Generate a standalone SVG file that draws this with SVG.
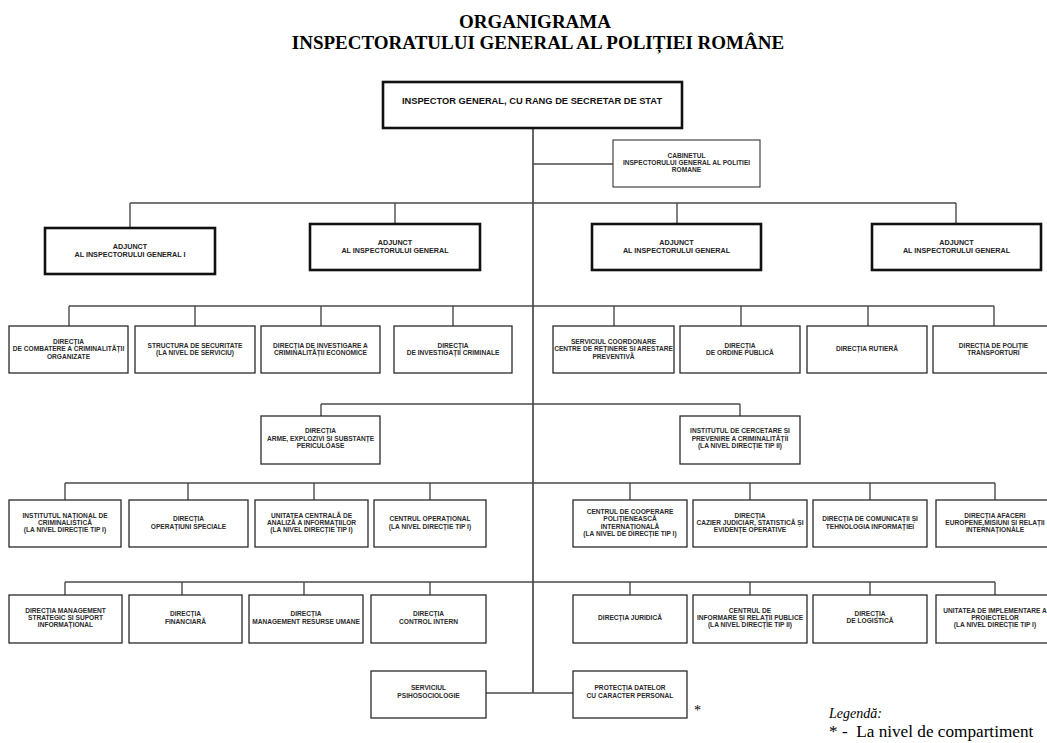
<svg xmlns="http://www.w3.org/2000/svg" width="1047" height="743" viewBox="0 0 1047 743">
<style>
.bg{fill:#fff}
.box{fill:#fff;stroke:#2a2a2a;stroke-width:1.3}
.thin{fill:#fff;stroke:#333;stroke-width:1.1}
.thick{fill:#fff;stroke:#111;stroke-width:2.6}
.ln{fill:none;stroke:#4a4a4a;stroke-width:1.4}
.main{fill:none;stroke:#111;stroke-width:1.3}
.t{font-family:"Liberation Sans",Arial,sans-serif;font-size:6.6px;font-weight:bold;fill:#2b2b2b;text-anchor:middle}
.ta{font-family:"Liberation Sans",Arial,sans-serif;font-size:7.2px;font-weight:bold;fill:#222;text-anchor:middle}
.tt{font-family:"Liberation Sans",Arial,sans-serif;font-size:9.3px;font-weight:bold;fill:#111;text-anchor:middle}
.title{font-family:"Liberation Serif","Times New Roman",serif;font-size:19px;font-weight:bold;fill:#000;text-anchor:middle}
.leg{font-family:"Liberation Serif","Times New Roman",serif;fill:#000}
</style>
<rect class="bg" x="0" y="0" width="1047" height="743"/>

<g id="title">
<text class="title" x="535" y="28">ORGANIGRAMA</text>
<text class="title" x="538" y="49">INSPECTORATULUI GENERAL AL POLIȚIEI ROMÂNE</text>
</g>

<g id="connectors">
<path class="main" d="M533 128V693"/>
<path class="ln" d="M533 164H613"/>
<path class="ln" d="M130 203H956M130 203V228M395 203V224M677 203V224M956 203V224"/>
<path class="ln" d="M69 306H994M69 306V326M195 306V326M321 306V326M453 306V326M614 306V326M741 306V326M868 306V326M994 306V326"/>
<path class="ln" d="M321 404H740M321 404V416M740 404V416"/>
<path class="ln" d="M65 483H995M65 483V500M188 483V500M314 483V500M430 483V500M630 483V500M750 483V500M870 483V500M995 483V500"/>
<path class="ln" d="M65 582H995M65 582V595M182 582V595M304 582V595M430 582V595M630 582V595M750 582V595M870 582V595M995 582V595"/>
<path class="ln" d="M486 693H573"/>
</g>

<g id="n-inspector">
<rect class="thick" x="383" y="82" width="299" height="46"/>
<text class="tt" x="532" y="104.3">INSPECTOR GENERAL, CU RANG DE SECRETAR DE STAT</text>
</g>

<g id="n-cabinet">
<rect class="thin" x="613" y="140" width="147" height="47"/>
<text class="t" x="686.5" y="157.5">CABINETUL</text>
<text class="t" x="686.5" y="164.8">INSPECTORULUI GENERAL AL POLITIEI</text>
<text class="t" x="686.5" y="172.1">ROMANE</text>
</g>

<g id="n-adj1">
<rect class="thick" x="45" y="228" width="170" height="46"/>
<text class="ta" x="130" y="248.6">ADJUNCT</text>
<text class="ta" x="130" y="257.4">AL INSPECTORULUI GENERAL I</text>
</g>
<g id="n-adj2">
<rect class="thick" x="310" y="224" width="170" height="46"/>
<text class="ta" x="395" y="244.6">ADJUNCT</text>
<text class="ta" x="395" y="253.4">AL INSPECTORULUI GENERAL</text>
</g>
<g id="n-adj3">
<rect class="thick" x="592" y="224" width="169" height="46"/>
<text class="ta" x="676.5" y="244.6">ADJUNCT</text>
<text class="ta" x="676.5" y="253.4">AL INSPECTORULUI GENERAL</text>
</g>
<g id="n-adj4">
<rect class="thick" x="872" y="224" width="169" height="46"/>
<text class="ta" x="956.5" y="244.6">ADJUNCT</text>
<text class="ta" x="956.5" y="253.4">AL INSPECTORULUI GENERAL</text>
</g>

<!-- Row 1 -->
<g id="n-b1">
<rect class="box" x="9" y="326" width="119" height="47"/>
<text class="t" x="68.5" y="344">DIRECȚIA</text>
<text class="t" x="68.5" y="351.3">DE COMBATERE A CRIMINALITĂȚII</text>
<text class="t" x="68.5" y="358.6">ORGANIZATE</text>
</g>
<g id="n-b2">
<rect class="box" x="135" y="326" width="120" height="47"/>
<text class="t" x="195" y="347.7">STRUCTURA DE SECURITATE</text>
<text class="t" x="195" y="355">(LA NIVEL DE SERVICIU)</text>
</g>
<g id="n-b3">
<rect class="box" x="261" y="326" width="119" height="47"/>
<text class="t" x="320.5" y="347.7">DIRECȚIA DE INVESTIGARE A</text>
<text class="t" x="320.5" y="355">CRIMINALITĂȚII ECONOMICE</text>
</g>
<g id="n-b4">
<rect class="box" x="394" y="326" width="118" height="47"/>
<text class="t" x="453" y="347.7">DIRECȚIA</text>
<text class="t" x="453" y="355">DE INVESTIGAȚII CRIMINALE</text>
</g>
<g id="n-b5">
<rect class="box" x="553" y="326" width="121" height="47"/>
<text class="t" x="613.5" y="344">SERVICIUL COORDONARE</text>
<text class="t" x="613.5" y="351.3">CENTRE DE REȚINERE ȘI ARESTARE</text>
<text class="t" x="613.5" y="358.6">PREVENTIVĂ</text>
</g>
<g id="n-b6">
<rect class="box" x="680" y="326" width="120" height="47"/>
<text class="t" x="740" y="347.7">DIRECȚIA</text>
<text class="t" x="740" y="355">DE ORDINE PUBLICĂ</text>
</g>
<g id="n-b7">
<rect class="box" x="807" y="326" width="120" height="47"/>
<text class="t" x="867" y="351.4">DIRECȚIA RUTIERĂ</text>
</g>
<g id="n-b8">
<rect class="box" x="933" y="326" width="121" height="47"/>
<text class="t" x="993.5" y="347.7">DIRECȚIA DE POLIȚIE</text>
<text class="t" x="993.5" y="355">TRANSPORTURI</text>
</g>

<!-- Row 2 -->
<g id="n-c1">
<rect class="box" x="261" y="416" width="119" height="48"/>
<text class="t" x="320.5" y="433.4">DIRECȚIA</text>
<text class="t" x="320.5" y="440.7">ARME, EXPLOZIVI ȘI SUBSTANȚE</text>
<text class="t" x="320.5" y="448">PERICULOASE</text>
</g>
<g id="n-c2">
<rect class="box" x="680" y="416" width="120" height="48"/>
<text class="t" x="740" y="433.4">INSTITUTUL DE CERCETARE ȘI</text>
<text class="t" x="740" y="440.7">PREVENIRE A CRIMINALITĂȚII</text>
<text class="t" x="740" y="448">(LA NIVEL DIRECȚIE TIP II)</text>
</g>

<!-- Row 3 -->
<g id="n-d1">
<rect class="box" x="9" y="500" width="112" height="47"/>
<text class="t" x="65" y="517.6">INSTITUTUL NAȚIONAL DE</text>
<text class="t" x="65" y="524.9">CRIMINALISTICĂ</text>
<text class="t" x="65" y="532.2">(LA NIVEL DIRECȚIE TIP I)</text>
</g>
<g id="n-d2">
<rect class="box" x="129" y="500" width="119" height="47"/>
<text class="t" x="188.5" y="521.2">DIRECȚIA</text>
<text class="t" x="188.5" y="528.5">OPERAȚIUNI SPECIALE</text>
</g>
<g id="n-d3">
<rect class="box" x="255" y="500" width="113" height="47"/>
<text class="t" x="311.5" y="517.6">UNITATEA CENTRALĂ DE</text>
<text class="t" x="311.5" y="524.9">ANALIZĂ A INFORMAȚIILOR</text>
<text class="t" x="311.5" y="532.2">(LA NIVEL DIRECȚIE TIP I)</text>
</g>
<g id="n-d4">
<rect class="box" x="374" y="500" width="112" height="47"/>
<text class="t" x="430" y="521.2">CENTRUL OPERAȚIONAL</text>
<text class="t" x="430" y="528.5">(LA NIVEL DIRECȚIE TIP I)</text>
</g>
<g id="n-d5">
<rect class="box" x="573" y="500" width="114" height="47"/>
<text class="t" x="630" y="514">CENTRUL DE COOPERARE</text>
<text class="t" x="630" y="521.3">POLIȚIENEASCĂ</text>
<text class="t" x="630" y="528.6">INTERNAȚIONALĂ</text>
<text class="t" x="630" y="535.9">(LA NIVEL DE DIRECȚIE TIP I)</text>
</g>
<g id="n-d6">
<rect class="box" x="693" y="500" width="114" height="47"/>
<text class="t" x="750" y="517.6">DIRECȚIA</text>
<text class="t" x="750" y="524.9">CAZIER JUDICIAR, STATISTICĂ ȘI</text>
<text class="t" x="750" y="532.2">EVIDENȚE OPERATIVE</text>
</g>
<g id="n-d7">
<rect class="box" x="813" y="500" width="114" height="47"/>
<text class="t" x="870" y="521.2">DIRECȚIA DE COMUNICAȚII ȘI</text>
<text class="t" x="870" y="528.5">TEHNOLOGIA INFORMAȚIEI</text>
</g>
<g id="n-d8">
<rect class="box" x="936" y="500" width="118" height="47"/>
<text class="t" x="995" y="517.6">DIRECȚIA AFACERI</text>
<text class="t" x="995" y="524.9">EUROPENE,MISIUNI ȘI RELAȚII</text>
<text class="t" x="995" y="532.2">INTERNAȚIONALE</text>
</g>

<!-- Row 4 -->
<g id="n-e1">
<rect class="box" x="9" y="595" width="113" height="48"/>
<text class="t" x="65.5" y="612.6">DIRECȚIA MANAGEMENT</text>
<text class="t" x="65.5" y="619.9">STRATEGIC ȘI SUPORT</text>
<text class="t" x="65.5" y="627.2">INFORMAȚIONAL</text>
</g>
<g id="n-e2">
<rect class="box" x="129" y="595" width="113" height="48"/>
<text class="t" x="185.5" y="616">DIRECȚIA</text>
<text class="t" x="185.5" y="623.8">FINANCIARĂ</text>
</g>
<g id="n-e3">
<rect class="box" x="249" y="595" width="114" height="48"/>
<text class="t" x="306" y="616">DIRECȚIA</text>
<text class="t" x="306" y="623.8">MANAGEMENT RESURSE UMANE</text>
</g>
<g id="n-e4">
<rect class="box" x="371" y="595" width="115" height="48"/>
<text class="t" x="428.5" y="616">DIRECȚIA</text>
<text class="t" x="428.5" y="623.8">CONTROL INTERN</text>
</g>
<g id="n-e5">
<rect class="box" x="573" y="595" width="114" height="48"/>
<text class="t" x="630" y="620.4">DIRECȚIA JURIDICĂ</text>
</g>
<g id="n-e6">
<rect class="box" x="693" y="595" width="114" height="48"/>
<text class="t" x="750" y="612.6">CENTRUL DE</text>
<text class="t" x="750" y="619.9">INFORMARE ȘI RELAȚII PUBLICE</text>
<text class="t" x="750" y="627.2">(LA NIVEL DIRECȚIE TIP II)</text>
</g>
<g id="n-e7">
<rect class="box" x="813" y="595" width="114" height="48"/>
<text class="t" x="870" y="616">DIRECȚIA</text>
<text class="t" x="870" y="623.3">DE LOGISTICĂ</text>
</g>
<g id="n-e8">
<rect class="box" x="936" y="595" width="118" height="48"/>
<text class="t" x="995" y="612.6">UNITATEA DE IMPLEMENTARE A</text>
<text class="t" x="995" y="619.9">PROIECTELOR</text>
<text class="t" x="995" y="627.2">(LA NIVEL DIRECȚIE TIP I)</text>
</g>

<!-- Row 5 -->
<g id="n-s1">
<rect class="box" x="371" y="671" width="115" height="47"/>
<text class="t" x="428.5" y="690.3">SERVICIUL</text>
<text class="t" x="428.5" y="698.3">PSIHOSOCIOLOGIE</text>
</g>
<g id="n-s2">
<rect class="box" x="573" y="671" width="114" height="47"/>
<text class="t" x="630" y="690.3">PROTECȚIA DATELOR</text>
<text class="t" x="630" y="697.8">CU CARACTER PERSONAL</text>
</g>

<g id="legend">
<text class="leg" x="694" y="715" font-size="14">*</text>
<text class="leg" x="829" y="718" font-size="14" font-style="italic">Legendă:</text>
<text class="leg" x="829" y="737" font-size="17.2" xml:space="preserve">* -  La nivel de compartiment</text>
</g>
</svg>
